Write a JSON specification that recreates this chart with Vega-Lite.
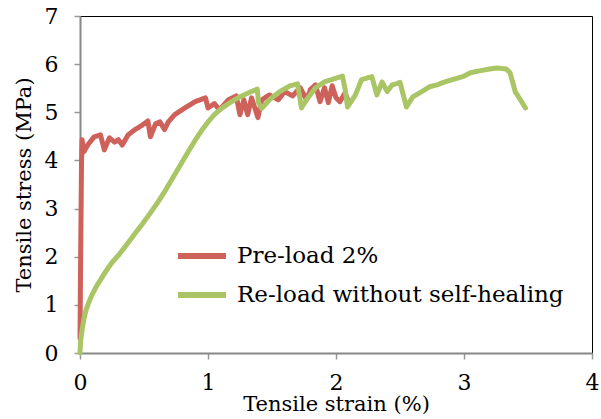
{
  "$schema": "https://vega.github.io/schema/vega-lite/v6.json",
  "width": 512,
  "height": 337,
  "autosize": {"type": "none"},
  "padding": {"left": 80, "top": 16, "right": 9, "bottom": 66},
  "background": "white",
  "config": {
    "view": {"stroke": "black", "strokeWidth": 1},
    "font": "DejaVu Serif"
  },
  "datasets": {
    "pre": [
      [0,0.3],[0.005,2.0],[0.012,4.0],[0.016,4.43],[0.03,4.18],[0.06,4.32],[0.11,4.49],[0.16,4.53],[0.19,4.22],[0.23,4.47],[0.27,4.38],[0.30,4.43],[0.33,4.32],[0.375,4.53],[0.43,4.64],[0.49,4.74],[0.53,4.82],[0.55,4.49],[0.59,4.76],[0.625,4.80],[0.66,4.64],[0.69,4.80],[0.74,4.95],[0.82,5.09],[0.90,5.22],[0.98,5.30],[1.0,5.09],[1.05,5.18],[1.09,5.05],[1.16,5.26],[1.22,5.34],[1.25,4.95],[1.28,5.26],[1.31,4.95],[1.34,5.30],[1.39,4.89],[1.42,5.26],[1.48,5.36],[1.55,5.26],[1.60,5.43],[1.66,5.34],[1.72,5.51],[1.77,5.26],[1.80,5.47],[1.84,5.57],[1.875,5.22],[1.91,5.51],[1.94,5.20],[1.97,5.55],[2.0,5.30],[2.03,5.22],[2.07,5.40],[2.1,5.2]
    ],
    "re": [
      [0,0],[0.005,0.25],[0.016,0.48],[0.03,0.7],[0.047,0.89],[0.07,1.06],[0.094,1.21],[0.125,1.37],[0.16,1.52],[0.2,1.69],[0.25,1.88],[0.31,2.06],[0.37,2.27],[0.43,2.48],[0.49,2.69],[0.55,2.91],[0.61,3.14],[0.67,3.39],[0.73,3.66],[0.79,3.93],[0.85,4.2],[0.9,4.42],[0.95,4.62],[1.0,4.8],[1.05,4.95],[1.1,5.07],[1.16,5.18],[1.22,5.28],[1.28,5.36],[1.34,5.43],[1.385,5.48],[1.395,5.2],[1.42,5.08],[1.48,5.26],[1.56,5.43],[1.64,5.55],[1.70,5.59],[1.73,5.09],[1.77,5.26],[1.84,5.51],[1.91,5.63],[1.99,5.70],[2.05,5.75],[2.07,5.5],[2.09,5.11],[2.15,5.35],[2.2,5.68],[2.28,5.74],[2.32,5.36],[2.36,5.63],[2.40,5.43],[2.44,5.57],[2.48,5.6],[2.5,5.62],[2.55,5.11],[2.6,5.32],[2.67,5.43],[2.73,5.53],[2.79,5.57],[2.85,5.63],[2.91,5.68],[2.99,5.74],[3.05,5.82],[3.12,5.86],[3.20,5.90],[3.26,5.92],[3.33,5.90],[3.36,5.82],[3.38,5.63],[3.40,5.43],[3.44,5.26],[3.48,5.09]
    ]
  },
  "layer": [
    {
      "data": {"name": "pre"},
      "transform": [
        {"calculate": "datum[0]", "as": "strain"},
        {"calculate": "datum[1]", "as": "stress"},
        {"calculate": "'Pre-load 2%'", "as": "series"},
        {"window": [{"op": "row_number", "as": "idx"}]}
      ],
      "mark": {"type": "line", "strokeWidth": 5, "strokeCap": "round", "strokeJoin": "round"},
      "encoding": {
        "x": {"field": "strain", "type": "quantitative"},
        "y": {"field": "stress", "type": "quantitative"},
        "order": {"field": "idx"},
        "color": {"field": "series", "type": "nominal"}
      }
    },
    {
      "data": {"name": "re"},
      "transform": [
        {"calculate": "datum[0]", "as": "strain"},
        {"calculate": "datum[1]", "as": "stress"},
        {"calculate": "'Re-load without self-healing'", "as": "series"},
        {"window": [{"op": "row_number", "as": "idx"}]}
      ],
      "mark": {"type": "line", "strokeWidth": 5, "strokeCap": "round", "strokeJoin": "round"},
      "encoding": {
        "x": {
          "field": "strain", "type": "quantitative",
          "scale": {"domain": [0, 4], "nice": false},
          "axis": {"title": "Tensile strain (%)", "values": [0,1,2,3,4], "format": "d", "grid": false, "labelFlush": false,
            "domainColor": "#888888", "domainWidth": 2, "tickColor": "#999999", "tickSize": 6, "tickWidth": 1.5,
            "labelFontSize": 22, "labelColor": "black", "labelPadding": 13,
            "titleFontSize": 21, "titleFontWeight": "normal", "titleColor": "black", "titlePadding": 0}
        },
        "y": {
          "field": "stress", "type": "quantitative",
          "scale": {"domain": [0, 7], "nice": false},
          "axis": {"title": "Tensile stress (MPa)", "values": [0,1,2,3,4,5,6,7], "format": "d", "grid": false, "labelFlush": false,
            "domainColor": "#888888", "domainWidth": 2, "tickColor": "#999999", "tickSize": 6, "tickWidth": 1.5,
            "labelFontSize": 22, "labelColor": "black", "labelPadding": 16,
            "titleFontSize": 21, "titleFontWeight": "normal", "titleColor": "black", "titlePadding": 10}
        },
        "order": {"field": "idx"},
        "color": {
          "field": "series", "type": "nominal",
          "scale": {"domain": ["Pre-load 2%", "Re-load without self-healing"], "range": ["#cf615b", "#a9c566"]},
          "legend": {"title": null, "orient": "none", "legendX": 95, "legendY": 213,
            "symbolType": "stroke", "symbolStrokeWidth": 6, "symbolSize": 2300,
            "labelFontSize": 23, "labelColor": "black", "labelLimit": 500,
            "rowPadding": -7, "labelOffset": 8}
        }
      }
    }
  ]
}
